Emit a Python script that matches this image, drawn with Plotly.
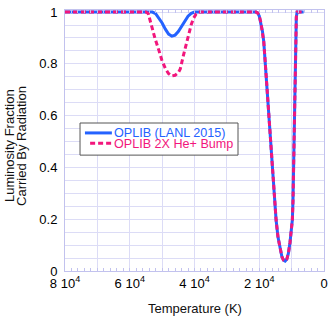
import plotly.graph_objects as go

# ---- data ----
temp_lanl = [80000, 53000, 52000, 51000, 50000, 49000, 48000, 47000, 46000, 45000,
             44000, 43000, 42000, 41000, 40000, 21000, 20500, 20000, 19500, 19000,
             18600, 18200, 17000, 16000, 15400, 14800, 14200, 13600, 13000, 12500,
             12000, 11500, 11000, 10500, 10100, 9780, 9570, 9300, 9000, 8750,
             8550, 8300, 6300]
frac_lanl = [1.0, 1.0, 0.994, 0.978, 0.958, 0.934, 0.915, 0.907, 0.911, 0.925,
             0.944, 0.964, 0.984, 0.995, 1.0, 1.0, 0.997, 0.985, 0.96, 0.925,
             0.885, 0.815, 0.60, 0.415, 0.29, 0.197, 0.13, 0.085, 0.055, 0.042,
             0.038, 0.045, 0.068, 0.11, 0.155, 0.197, 0.274, 0.45, 0.75, 0.92,
             0.98, 1.0, 1.0]

temp_bump = [80000, 55000, 54300, 53900, 53000, 52200, 51000, 50100, 49000, 48050,
             47000, 46000, 45000, 44400, 43400, 42600, 41900, 41000, 40300, 39500,
             38800, 21000, 20500, 20000, 19500, 19000, 18600, 18200, 17000, 16000,
             15400, 14800, 14200, 13600, 13000, 12500, 12000, 11500, 11000, 10500,
             10100, 9780, 9570, 9300, 9000, 8750, 8550, 8300, 6300]
frac_bump = [1.0, 1.0, 0.995, 0.976, 0.935, 0.898, 0.852, 0.815, 0.782, 0.763,
             0.753, 0.756, 0.766, 0.78, 0.834, 0.875, 0.911, 0.952, 0.976, 0.993,
             1.0, 1.0, 0.997, 0.985, 0.96, 0.925, 0.885, 0.815, 0.60, 0.415,
             0.29, 0.197, 0.13, 0.085, 0.055, 0.042, 0.038, 0.045, 0.068, 0.11,
             0.155, 0.197, 0.274, 0.45, 0.75, 0.92, 0.98, 1.0, 1.0]

x_tickvals = [80000, 70000, 60000, 50000, 40000, 30000, 20000, 10000, 0]
x_ticktext = ["8 10<sup>4</sup>", " ", "6 10<sup>4</sup>", " ", "4 10<sup>4</sup>", " ",
              "2 10<sup>4</sup>", " ", "0"]
y_tickvals = [0, 0.2, 0.4, 0.6, 0.8, 1.0]
y_ticktext = ["0", "0.2", "0.4", "0.6", "0.8", "1"]

name_lanl = "OPLIB (LANL 2015)"
name_bump = "OPLIB 2X He+ Bump"

BLUE = "#2462ff"
PINK = "#f2167c"
GRID = "#dcdcf6"
AXIS = "#c2c2ee"
FONT = "Liberation Sans, Arial, Helvetica, sans-serif"

fig = go.Figure()
fig.add_trace(go.Scatter(x=temp_lanl, y=frac_lanl, mode="lines", name=name_lanl,
                         line=dict(color=BLUE, width=3), hoverinfo="skip"))
fig.add_trace(go.Scatter(x=temp_bump, y=frac_bump, mode="lines", name=name_bump,
                         line=dict(color=PINK, width=3, dash="5px,3px"), hoverinfo="skip"))

fig.update_layout(
    width=332, height=321,
    margin=dict(l=65, r=8, t=10, b=50, autoexpand=False),
    paper_bgcolor="white", plot_bgcolor="white",
    showlegend=False,
    hovermode=False,
    font=dict(family=FONT, size=13, color="black"),
)
fig.update_xaxes(
    range=[80000, 0], tickmode="array", tickvals=x_tickvals, ticktext=x_ticktext,
    automargin=False,
    showgrid=True, gridcolor=GRID, gridwidth=1,
    showline=True, linecolor=AXIS, linewidth=1, mirror="allticks",
    ticks="inside", ticklen=3, tickcolor=AXIS,
    minor=dict(dtick=2000, tick0=0, ticks="inside", ticklen=3, tickcolor=AXIS, showgrid=False),
    zeroline=False, tickfont=dict(size=13),
)
fig.update_yaxes(
    range=[0, 1.008], tickmode="array", tickvals=y_tickvals, ticktext=y_ticktext,
    automargin=False,
    showgrid=True, gridcolor=GRID, gridwidth=1,
    showline=True, linecolor=AXIS, linewidth=1, mirror=True,
    ticks="", ticklabelstandoff=4,
    minor=dict(dtick=0.05, tick0=0, showgrid=True, gridcolor=GRID, ticks=""),
    zeroline=False, tickfont=dict(size=13),
)

# custom legend box (compact, like the reference)
fig.add_shape(type="rect", xref="paper", yref="paper", x0=0.058, x1=0.668, y0=0.444, y1=0.567,
              line=dict(color="#555555", width=1), fillcolor="white", layer="above")
fig.add_shape(type="line", xref="paper", yref="paper", x0=0.077, x1=0.181, y0=0.529, y1=0.529,
              line=dict(color=BLUE, width=3), layer="above")
fig.add_shape(type="line", xref="paper", yref="paper", x0=0.097, x1=0.181, y0=0.489, y1=0.489,
              line=dict(color=PINK, width=3, dash="5px,3px"), layer="above")
fig.add_annotation(xref="paper", yref="paper", x=0.183, y=0.529, xanchor="left", yanchor="middle",
                   text=name_lanl, showarrow=False, font=dict(size=12.6, color=BLUE))
fig.add_annotation(xref="paper", yref="paper", x=0.183, y=0.487, xanchor="left", yanchor="middle",
                   text=name_bump, showarrow=False, font=dict(size=12.6, color=PINK))

# axis titles
fig.add_annotation(xref="paper", yref="paper", x=-0.212, y=0.479, xanchor="center", yanchor="middle",
                   text="Luminosity Fraction", textangle=-90, showarrow=False,
                   font=dict(size=13, color="#111111"))
fig.add_annotation(xref="paper", yref="paper", x=-0.166, y=0.479, xanchor="center", yanchor="middle",
                   text="Carried By Radiation", textangle=-90, showarrow=False,
                   font=dict(size=13, color="#111111"))
fig.add_annotation(xref="paper", yref="paper", x=0.502, y=-0.142, xanchor="center", yanchor="middle",
                   text="Temperature (K)", showarrow=False, font=dict(size=13, color="#111111"))

fig.write_html(
    "out.html",
    config={"displayModeBar": False, "staticPlot": True},
    post_script="document.body.style.margin='0';document.body.style.padding='0';"
                "document.body.style.overflow='hidden';",
)
